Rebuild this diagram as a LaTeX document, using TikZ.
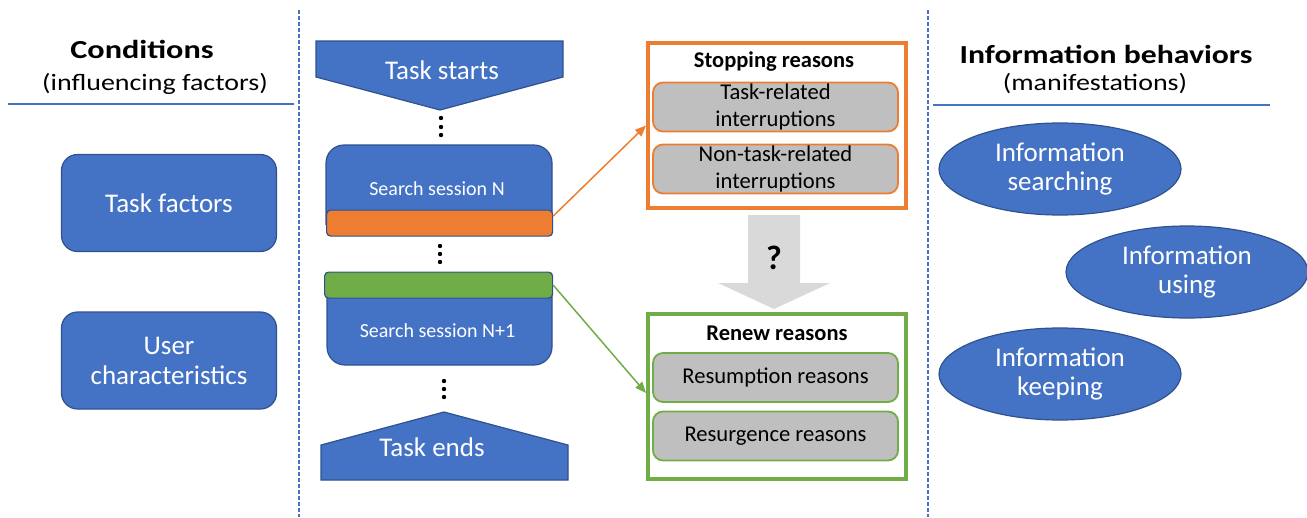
\documentclass[tikz,border=0pt]{standalone}
\usepackage{graphicx}
\usepackage{fontspec}
\setmainfont{Carlito}
\usetikzlibrary{shapes.geometric,arrows.meta}
\definecolor{cblue}{HTML}{4472C4}
\definecolor{cborder}{HTML}{2F528F}
\definecolor{corange}{HTML}{ED7D31}
\definecolor{cgreen}{HTML}{70AD47}
\definecolor{cgrey}{HTML}{BFBFBF}
\definecolor{clight}{HTML}{D9D9D9}
\newcommand{\fsz}[2]{\fontsize{#1}{#2}\selectfont}
\newcommand{\myhs}[2]{\scalebox{#1}[1]{#2}}
\begin{document}
\begin{tikzpicture}[x=1pt,y=-1pt,
  blueshape/.style={fill=cblue,draw=cborder,line width=1.2pt},
  factor/.style={blueshape,rounded corners=16pt,minimum width=215pt,minimum height=97pt,text=white,font=\fsz{27}{30},align=center},
  behav/.style={blueshape,ellipse,minimum width=242pt,minimum height=92pt,inner sep=0pt,text=white,font=\fsz{27}{29},align=center},
  whitetext/.style={text=white,font=\fsz{27}{30},anchor=base},
  sesstext/.style={text=white,font=\fsz{20}{23},anchor=base},
  band/.style={draw=cborder,line width=1.2pt,rounded corners=4pt,minimum width=#1,minimum height=26pt,inner sep=0pt,anchor=north west},
  reasonbox/.style={draw=#1,line width=4pt,minimum width=258pt,minimum height=165pt,inner sep=0pt},
  reason/.style={draw=#1,fill=cgrey,line width=1.8pt,rounded corners=10pt,minimum width=245pt,minimum height=49pt,inner sep=0pt,align=center,font=\fsz{22.6}{27}},
  title/.style={font=\bfseries\fsz{22.5}{25},anchor=base},
  head/.style={font=\bfseries\fsz{26}{30},anchor=base},
  subhead/.style={font=\fsz{23.5}{28},anchor=base},
  sepline/.style={cblue,line width=1.5pt,dash pattern=on 4pt off 2pt},
  rule/.style={cblue,line width=1.5pt},
  link/.style={line width=1.5pt,-{Triangle[length=11pt,width=9pt]}},
  dot/.style={fill=black}
]
\useasboundingbox (0,0) rectangle (1307,517);
% separators
\draw[sepline] (299,10) -- (299,517);
\draw[sepline] (928,10) -- (928,517);
% left column
\node[head] (cond) at (142,58) {\myhs{1.24}{Conditions}};
\node[subhead] (condsub) at (155,90) {\myhs{1.19}{(influencing factors)}};
\draw[rule] (8,104) -- (294,104);
\node[factor] (taskf) at (169,203) {Task factors};
\node[factor] (userc) at (169,360.5) {User\\characteristics};
% right column
\node[head] (infb) at (1106,63) {\myhs{1.22}{Information behaviors}};
\node[subhead] (manif) at (1095,90) {\myhs{1.19}{(manifestations)}};
\draw[rule] (933,105) -- (1270,105);
\node[behav] (srch) at (1060,169) {Information\\searching};
\node[behav] (using) at (1187,272) {Information\\using};
\node[behav] (keep) at (1060,374) {Information\\keeping};
% middle flow
\path[blueshape] (316,41) -- (563,41) -- (563,77) -- (440,110) -- (316,77) -- cycle;
\node[whitetext] (start) at (442,79) {Task starts};
\foreach \yy in {118,127,135} \fill[dot] (441,\yy) circle (2.2);
\path[blueshape,rounded corners=18pt] (326,225) -- (326,145) -- (552,145) -- (552,225);
\node[band=226pt,fill=corange] (bandN) at (326,209.5) {};
\node[sesstext] (sessN) at (437,195) {Search session N};
\foreach \yy in {246,254,262} \fill[dot] (440,\yy) circle (2.2);
\path[blueshape,rounded corners=18pt] (327,285) -- (327,365) -- (552,365) -- (552,285);
\node[band=228pt,fill=cgreen] (bandG) at (324,271.5) {};
\node[sesstext] (sessN1) at (437.5,337) {Search session N+1};
\foreach \yy in {381,389,397} \fill[dot] (444,\yy) circle (2.2);
\path[blueshape] (321,480) -- (321,445) -- (444,412) -- (568,445) -- (568,480) -- cycle;
\node[whitetext] (ends) at (432,456) {Task ends};
% reasons
\node[reasonbox=corange] (stop) at (777,125.5) {};
\node[title] (stoptitle) at (774,67) {Stopping reasons};
\node[reason=corange] (tr) at (775.5,107) {Task-related\\interruptions};
\node[reason=corange] (ntr) at (775.5,169) {Non-task-related\\interruptions};
\node[reasonbox=cgreen] (renew) at (777,396) {};
\node[title] (renewtitle) at (777,340) {Renew reasons};
\node[reason=cgreen] (resum) at (775.5,377.5) {Resumption reasons};
\node[reason=cgreen] (resur) at (775.5,436) {Resurgence reasons};
% grey block arrow
\fill[clight] (748,215) -- (800,215) -- (800,283) -- (830,283) -- (774,309) -- (718,283) -- (748,283) -- cycle;
\node[font=\bfseries\fsz{34}{40}] (q) at (774,258) {?};
% connectors
\draw[link,corange] ([yshift=7pt]bandN.east) -- (stop.west);
\draw[link,cgreen] (bandG.east) -- ([yshift=3pt]renew.west);
\end{tikzpicture}
\end{document}
